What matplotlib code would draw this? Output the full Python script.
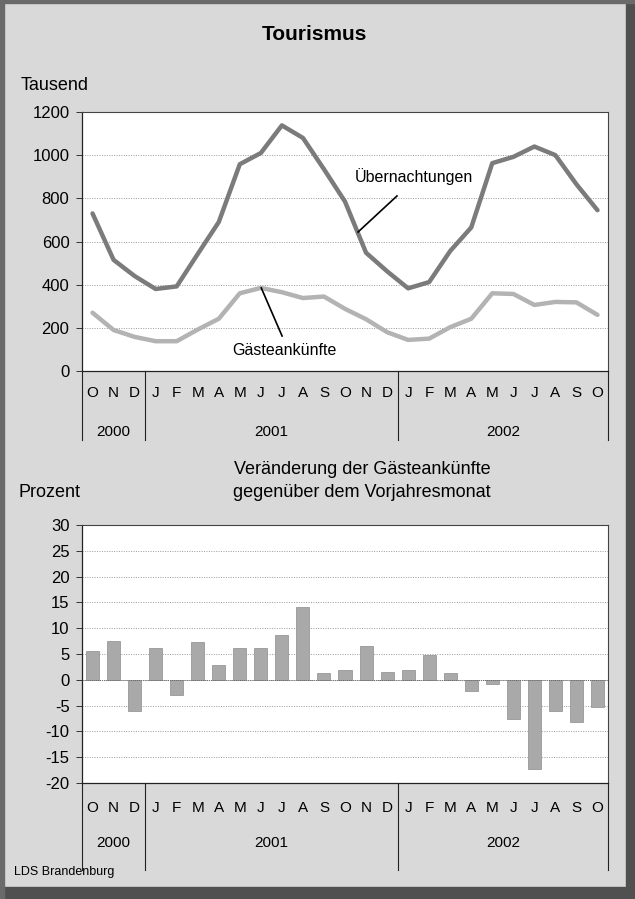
#!/usr/bin/env python3
"""Tourismus: Uebernachtungen / Gaesteankuenfte (line) and Veraenderung zum Vorjahresmonat (bars)."""

import matplotlib
matplotlib.use("Agg")
import matplotlib.pyplot as plt
import matplotlib.transforms as mtransforms
from matplotlib.patches import Rectangle
import numpy as np

plt.rcParams["font.family"] = ["Liberation Sans", "DejaVu Sans"]
plt.rcParams["axes.unicode_minus"] = False

# --- data -------------------------------------------------------------
months = ["O", "N", "D",
          "J", "F", "M", "A", "M", "J", "J", "A", "S", "O", "N", "D",
          "J", "F", "M", "A", "M", "J", "J", "A", "S", "O"]
years = ["2000", "2001", "2002"]
year_sizes = [3, 12, 10]

uebernachtungen = [730, 515, 440, 380, 392, 542, 690, 958, 1010, 1138, 1080, 935,
                   785, 548, 462, 383, 412, 556, 665, 963, 992, 1040, 1000, 865, 745]
gaesteankuenfte = [270, 190, 158, 138, 138, 192, 242, 360, 385, 365, 338, 345,
                   288, 240, 180, 144, 150, 203, 242, 360, 357, 306, 320, 318, 260]

veraenderung = [5.5, 7.5, -6.1, 6.1, -3.0, 7.4, 2.9, 6.1, 6.1, 8.6, 14.1, 1.3, 1.9,
                6.6, 1.6, 1.9, 4.8, 1.3, -2.2, -0.8, -7.6, -17.3, -6.1, -8.1, -5.2]

BG = "#d9d9d9"
x = np.arange(len(months))
bounds = np.concatenate([[0], np.cumsum(year_sizes)]) - 0.5


def category_axis(ax, y_month, y_year, y_line):
    trans = mtransforms.blended_transform_factory(ax.transData, ax.transAxes)
    ax.set_xlim(-0.5, len(months) - 0.5)
    ax.set_xticks([])
    for i, m in enumerate(months):
        ax.text(i, y_month, m, transform=trans, ha="center", va="center", fontsize=11)
    for k, yr in enumerate(years):
        mid = (bounds[k] + bounds[k + 1]) / 2
        ax.text(mid, y_year, yr, transform=trans, ha="center", va="center", fontsize=11)
    for b in bounds:
        ax.plot([b, b], [0, y_line], transform=trans, color="#222222", lw=0.8, clip_on=False)


def style_axes(ax):
    ax.set_facecolor("white")
    ax.grid(axis="y", linestyle=(0, (1, 1.5)), color="#9a9a9a", lw=0.7)
    ax.set_axisbelow(True)
    for s in ["top", "right"]:
        ax.spines[s].set_color("#444444")
        ax.spines[s].set_linewidth(0.8)
    for s in ["left", "bottom"]:
        ax.spines[s].set_color("#222222")
        ax.spines[s].set_linewidth(0.9)
    ax.tick_params(axis="y", labelsize=12, length=4, width=0.7, pad=5, color="#333333")


fig = plt.figure(figsize=(6.35, 8.99), dpi=100, facecolor=BG)

# border of the scanned page
fig.patches.append(Rectangle((626 / 635, 0), 9 / 635, 1, transform=fig.transFigure,
                             color="#505050", zorder=-1))
fig.patches.append(Rectangle((0, 0), 1, 12 / 899, transform=fig.transFigure,
                             color="#505050", zorder=-1))
fig.patches.append(Rectangle((0, 0), 4 / 635, 1, transform=fig.transFigure,
                             color="#6a6a6a", zorder=-1))
fig.patches.append(Rectangle((0, 1 - 3 / 899), 1, 3 / 899, transform=fig.transFigure,
                             color="#6a6a6a", zorder=-1))

# --- top: line chart --------------------------------------------------
ax1 = fig.add_axes([82 / 635, 1 - 371 / 899, 526 / 635, 259 / 899])
style_axes(ax1)
ax1.plot(x, uebernachtungen, color="#7b7b7b", lw=3.2, solid_capstyle="round")
ax1.plot(x, gaesteankuenfte, color="#b3b3b3", lw=3.2, solid_capstyle="round")
ax1.set_ylim(0, 1200)
ax1.set_yticks(np.arange(0, 1201, 200))
category_axis(ax1, -0.085, -0.236, -0.266)

ax1.text(15.27, 899, "Übernachtungen", ha="center", va="center", fontsize=11.5)
ax1.plot([14.47, 12.62], [811, 644], color="black", lw=1.2)
ax1.text(9.1, 97, "Gästeankünfte", ha="center", va="center", fontsize=11.5)
ax1.plot([8.02, 9.01], [385, 162], color="black", lw=1.2)

fig.text(314 / 635, 1 - 34 / 899, "Tourismus", ha="center", va="center",
         fontsize=15, fontweight="bold")
fig.text(21 / 635, 1 - 85 / 899, "Tausend", ha="left", va="center", fontsize=13)

# --- bottom: bar chart ------------------------------------------------
ax2 = fig.add_axes([82 / 635, 1 - 783 / 899, 526 / 635, 258 / 899])
style_axes(ax2)
ax2.bar(x, veraenderung, width=0.62, color="#a9a9a9", edgecolor="#8c8c8c", lw=0.5)
ax2.axhline(0, color="#666666", lw=0.7, linestyle=(0, (1, 1)))
ax2.set_ylim(-20, 30)
ax2.set_yticks(np.arange(-20, 31, 5))
category_axis(ax2, -0.097, -0.233, -0.337)

fig.text(362 / 635, 1 - 470 / 899, "Veränderung der Gästeankünfte", ha="center",
         va="center", fontsize=13)
fig.text(362 / 635, 1 - 493 / 899, "gegenüber dem Vorjahresmonat", ha="center",
         va="center", fontsize=13)
fig.text(18 / 635, 1 - 493 / 899, "Prozent", ha="left", va="center", fontsize=13)

fig.text(14 / 635, 1 - 872 / 899, "LDS Brandenburg", ha="left", va="center", fontsize=9)

fig.savefig("out.png", dpi=100, facecolor=BG)
